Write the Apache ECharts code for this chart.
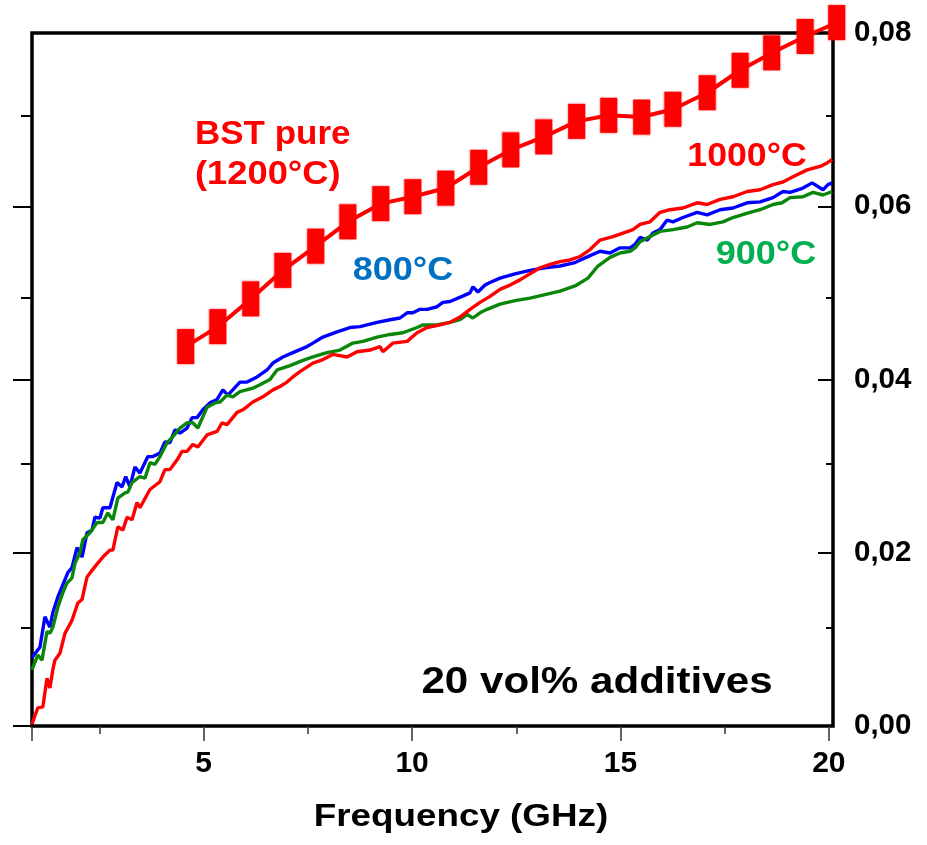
<!DOCTYPE html>
<html>
<head>
<meta charset="utf-8">
<script src="https://cdn.jsdelivr.net/npm/echarts@6/dist/echarts.min.js"></script>
<style>
  html, body { margin: 0; padding: 0; background: #ffffff; }
  #chart { width: 927px; height: 845px; }
</style>
</head>
<body>
<div id="chart"></div>
<script>
// Dielectric loss vs frequency, BST with 20 vol% additives sintered at 800/900/1000 °C,
// compared with pure BST sintered at 1200 °C.

// Pure BST (1200 °C), discrete measurement points
const freqBST = [4.57, 5.34, 6.13, 6.9, 7.69, 8.46, 9.25, 10.02, 10.81, 11.6, 12.37, 13.16, 13.95, 14.72, 15.51, 16.26, 17.08, 17.87, 18.63, 19.43, 20.19];
const lossBST = [0.0438, 0.0461, 0.0493, 0.0526, 0.0554, 0.0582, 0.0603, 0.0611, 0.0621, 0.0645, 0.0665, 0.0680, 0.0698, 0.0705, 0.0703, 0.0712, 0.0731, 0.0757, 0.0777, 0.0796, 0.0812];

// 800 °C
const freq800 = [0.88, 1.07, 1.19, 1.31, 1.38, 1.5, 1.74, 1.84, 1.96, 2.08, 2.2, 2.32, 2.39, 2.51, 2.58, 2.75, 2.92, 3.04, 3.13, 3.23, 3.35, 3.47, 3.66, 3.78, 3.95, 4.07, 4.19, 4.31, 4.43, 4.6, 4.72, 4.84, 4.98, 5.15, 5.32, 5.46, 5.58, 5.87, 6.04, 6.28, 6.52, 6.66, 6.9, 7.14, 7.48, 7.62, 7.86, 8.2, 8.51, 8.75, 9.16, 9.47, 9.71, 9.88, 10.02, 10.19, 10.36, 10.6, 10.74, 10.91, 11.2, 11.39, 11.46, 11.58, 11.75, 11.87, 12.11, 12.47, 12.83, 13.19, 13.55, 13.91, 14.27, 14.51, 14.75, 14.99, 15.23, 15.35, 15.47, 15.64, 15.78, 15.95, 16.12, 16.26, 16.5, 16.84, 17.08, 17.39, 17.7, 18.04, 18.35, 18.66, 18.9, 19.07, 19.38, 19.6, 19.86, 19.98, 20.08];
const loss800 = [0.0079, 0.0091, 0.0126, 0.0114, 0.0131, 0.0149, 0.0177, 0.0183, 0.0206, 0.0195, 0.0223, 0.0226, 0.0241, 0.0240, 0.0252, 0.0252, 0.0281, 0.0276, 0.0288, 0.0276, 0.0299, 0.0292, 0.0311, 0.0311, 0.0315, 0.0328, 0.0327, 0.0342, 0.0338, 0.0344, 0.0356, 0.0356, 0.0365, 0.0373, 0.0377, 0.0388, 0.0382, 0.0397, 0.0397, 0.0403, 0.0411, 0.0419, 0.0426, 0.0431, 0.0438, 0.0442, 0.0449, 0.0455, 0.0460, 0.0461, 0.0466, 0.0469, 0.0471, 0.0477, 0.0477, 0.0481, 0.0481, 0.0484, 0.0489, 0.0490, 0.0496, 0.0500, 0.0507, 0.0501, 0.0509, 0.0512, 0.0517, 0.0522, 0.0526, 0.0529, 0.0531, 0.0535, 0.0543, 0.0548, 0.0546, 0.0552, 0.0552, 0.0556, 0.0564, 0.0561, 0.0569, 0.0573, 0.0584, 0.0582, 0.0587, 0.0593, 0.0590, 0.0596, 0.0598, 0.0604, 0.0605, 0.0610, 0.0617, 0.0616, 0.0621, 0.0627, 0.0619, 0.0625, 0.0627];

// 900 °C
const freq900 = [0.88, 1.02, 1.12, 1.24, 1.31, 1.38, 1.5, 1.62, 1.72, 1.84, 1.91, 2.03, 2.1, 2.27, 2.44, 2.58, 2.7, 2.82, 2.94, 3.11, 3.18, 3.28, 3.47, 3.59, 3.71, 3.83, 3.95, 4.12, 4.26, 4.43, 4.6, 4.74, 4.86, 5.08, 5.27, 5.39, 5.56, 5.7, 5.87, 6.18, 6.35, 6.59, 6.76, 7.07, 7.38, 7.62, 7.96, 8.27, 8.58, 8.82, 9.16, 9.47, 9.78, 10.12, 10.26, 10.6, 10.91, 11.15, 11.32, 11.46, 11.63, 11.8, 12.11, 12.47, 12.83, 13.19, 13.55, 13.91, 14.22, 14.46, 14.75, 14.99, 15.23, 15.35, 15.47, 15.71, 15.95, 16.26, 16.6, 16.84, 17.15, 17.46, 17.7, 18.11, 18.35, 18.66, 18.88, 19.07, 19.38, 19.62, 19.86, 20.08];
const loss900 = [0.0065, 0.0082, 0.0076, 0.0109, 0.0107, 0.0114, 0.0137, 0.0154, 0.0165, 0.0171, 0.0188, 0.0200, 0.0215, 0.0223, 0.0235, 0.0235, 0.0246, 0.0238, 0.0263, 0.0269, 0.0270, 0.0281, 0.0288, 0.0286, 0.0304, 0.0302, 0.0311, 0.0327, 0.0334, 0.0344, 0.0350, 0.0350, 0.0344, 0.0368, 0.0373, 0.0374, 0.0382, 0.0380, 0.0386, 0.0390, 0.0394, 0.0400, 0.0411, 0.0416, 0.0422, 0.0426, 0.0431, 0.0434, 0.0442, 0.0444, 0.0449, 0.0452, 0.0454, 0.0460, 0.0463, 0.0463, 0.0466, 0.0469, 0.0475, 0.0471, 0.0477, 0.0481, 0.0487, 0.0491, 0.0494, 0.0498, 0.0502, 0.0508, 0.0517, 0.0531, 0.0541, 0.0546, 0.0548, 0.0552, 0.0559, 0.0565, 0.0571, 0.0573, 0.0576, 0.0581, 0.0579, 0.0582, 0.0587, 0.0593, 0.0596, 0.0602, 0.0604, 0.0610, 0.0611, 0.0616, 0.0613, 0.0617];

// 1000 °C
const freq1000 = [0.88, 0.95, 1.02, 1.14, 1.24, 1.31, 1.38, 1.43, 1.55, 1.67, 1.84, 1.98, 2.08, 2.2, 2.39, 2.58, 2.75, 2.82, 2.94, 3.06, 3.16, 3.28, 3.4, 3.47, 3.71, 3.95, 4.07, 4.19, 4.36, 4.48, 4.6, 4.74, 4.86, 5.08, 5.32, 5.44, 5.56, 5.8, 5.94, 6.18, 6.42, 6.66, 6.83, 7.0, 7.14, 7.31, 7.62, 7.86, 8.1, 8.44, 8.68, 8.99, 9.23, 9.3, 9.54, 9.88, 10.12, 10.36, 10.67, 10.91, 11.15, 11.39, 11.63, 11.87, 12.11, 12.35, 12.59, 12.83, 13.07, 13.31, 13.55, 13.79, 14.03, 14.27, 14.51, 14.82, 15.06, 15.3, 15.47, 15.71, 15.95, 16.19, 16.5, 16.84, 17.08, 17.39, 17.7, 18.04, 18.35, 18.66, 18.9, 19.14, 19.48, 19.79, 19.96, 20.08];
const loss1000 = [0.0002, 0.0012, 0.0021, 0.0022, 0.0055, 0.0044, 0.0065, 0.0076, 0.0084, 0.0107, 0.0122, 0.0142, 0.0146, 0.0172, 0.0184, 0.0195, 0.0203, 0.0203, 0.0230, 0.0226, 0.0241, 0.0238, 0.0258, 0.0252, 0.0273, 0.0282, 0.0296, 0.0296, 0.0307, 0.0317, 0.0317, 0.0325, 0.0322, 0.0336, 0.0340, 0.0350, 0.0348, 0.0362, 0.0365, 0.0374, 0.0380, 0.0388, 0.0392, 0.0397, 0.0403, 0.0409, 0.0419, 0.0423, 0.0429, 0.0426, 0.0432, 0.0434, 0.0438, 0.0432, 0.0442, 0.0444, 0.0454, 0.0460, 0.0463, 0.0466, 0.0472, 0.0481, 0.0489, 0.0496, 0.0504, 0.0509, 0.0515, 0.0522, 0.0529, 0.0533, 0.0536, 0.0538, 0.0542, 0.0550, 0.0561, 0.0565, 0.0569, 0.0573, 0.0579, 0.0582, 0.0593, 0.0596, 0.0598, 0.0604, 0.0602, 0.0608, 0.0611, 0.0617, 0.0619, 0.0625, 0.0628, 0.0634, 0.0642, 0.0646, 0.0650, 0.0654];

// Axis ranges and ticks
const xMin = 0.88, xMax = 20.1;
const xLabelValues = [5, 10, 15, 20];
const xMajorTicks = [0.88, 5, 10, 15, 20];
const xMinorTicks = [2.5, 7.5, 12.5, 17.5];
const yMin = 0, yMax = 0.08;
const yLabelValues = [0, 0.02, 0.04, 0.06, 0.08];
const yLabels = ['0,00', '0,02', '0,04', '0,06', '0,08'];
const yLeftMajorTicks = [0, 0.02, 0.04, 0.06];
const yMinorTicks = [0.0113, 0.0303, 0.0494, 0.0704];

const pairs = (xs, ys) => xs.map((x, i) => [x, ys[i]]);

const FONT = 'Arial, "Liberation Sans", sans-serif';
const tickLine = { color: '#000', width: 2 };

const chart = echarts.init(document.getElementById('chart'), null, { renderer: 'canvas' });

chart.setOption({
  animation: false,
  backgroundColor: '#ffffff',
  grid: {
    left: 32, right: 94, top: 33, bottom: 119,
    show: true, borderColor: '#000', borderWidth: 3.5, backgroundColor: 'transparent'
  },
  xAxis: [
    {
      type: 'value', position: 'bottom', min: xMin, max: xMax,
      axisLine: { show: false }, splitLine: { show: false },
      axisTick: { show: true, inside: false, length: 15, customValues: xMajorTicks, lineStyle: { color: '#333', width: 1.5 } },
      axisLabel: {
        show: true, customValues: xLabelValues, margin: 23,
        color: '#000', fontSize: 30, fontWeight: 'bold', fontFamily: FONT,
        formatter: v => String(Math.round(v))
      }
    },
    {
      type: 'value', position: 'bottom', min: xMin, max: xMax,
      axisLine: { show: false }, splitLine: { show: false },
      axisTick: { show: true, inside: false, length: 8, customValues: xMinorTicks, lineStyle: { color: '#333', width: 1.5 } },
      axisLabel: { show: false }
    }
  ],
  yAxis: [
    {
      type: 'value', position: 'left', min: yMin, max: yMax,
      axisLine: { show: false }, splitLine: { show: false },
      axisTick: { show: true, inside: false, length: 19, customValues: yLeftMajorTicks, lineStyle: tickLine },
      axisLabel: { show: false }
    },
    {
      type: 'value', position: 'left', min: yMin, max: yMax,
      axisLine: { show: false }, splitLine: { show: false },
      axisTick: { show: true, inside: false, length: 11, customValues: yMinorTicks, lineStyle: tickLine },
      axisLabel: { show: false }
    },
    {
      type: 'value', position: 'right', min: yMin, max: yMax,
      axisLine: { show: false }, splitLine: { show: false },
      axisTick: { show: true, inside: true, length: 15, customValues: yLabelValues, lineStyle: tickLine },
      axisLabel: {
        show: true, customValues: yLabelValues, margin: 21,
        color: '#000', fontSize: 29.5, fontWeight: 'bold', fontFamily: FONT,
        formatter: v => yLabels[yLabelValues.findIndex(t => Math.abs(t - v) < 1e-9)]
      }
    },
    {
      type: 'value', position: 'right', min: yMin, max: yMax,
      axisLine: { show: false }, splitLine: { show: false },
      axisTick: { show: true, inside: true, length: 7, customValues: yMinorTicks, lineStyle: tickLine },
      axisLabel: { show: false }
    }
  ],
  series: [
    {
      name: '800°C', type: 'line', xAxisIndex: 0, yAxisIndex: 0,
      data: pairs(freq800, loss800), showSymbol: false, symbol: 'none',
      lineStyle: { color: '#0000ff', width: 3.4 }, z: 3
    },
    {
      name: '900°C', type: 'line', xAxisIndex: 0, yAxisIndex: 0,
      data: pairs(freq900, loss900), showSymbol: false, symbol: 'none',
      lineStyle: { color: '#0a870a', width: 3.4 }, z: 4
    },
    {
      name: '1000°C', type: 'line', xAxisIndex: 0, yAxisIndex: 0,
      data: pairs(freq1000, loss1000), showSymbol: false, symbol: 'none',
      lineStyle: { color: '#ff0000', width: 3.4 }, z: 5
    },
    {
      name: 'BST pure (1200°C)', type: 'line', xAxisIndex: 0, yAxisIndex: 0,
      data: pairs(freqBST, lossBST), clip: false,
      symbol: 'rect', symbolSize: [17, 35], showSymbol: true,
      itemStyle: { color: '#ff0000', shadowColor: 'rgba(255,0,0,0.6)', shadowBlur: 2 },
      lineStyle: { color: '#ff0000', width: 4 }, z: 6
    }
  ],
  graphic: [
    { type: 'text', x: 195, y: 135, scaleX: 1.06, z: 20,
      style: { text: 'BST pure', fill: '#ff0000', font: 'bold 33px ' + FONT, align: 'left', verticalAlign: 'middle', textAlign: 'left', textVerticalAlign: 'middle' } },
    { type: 'text', x: 195, y: 175, scaleX: 1.1, z: 20,
      style: { text: '(1200°C)', fill: '#ff0000', font: 'bold 33px ' + FONT, align: 'left', verticalAlign: 'middle', textAlign: 'left', textVerticalAlign: 'middle' } },
    { type: 'text', x: 403, y: 271, scaleX: 1.06, z: 20,
      style: { text: '800°C', fill: '#0070c0', font: 'bold 34px ' + FONT, align: 'center', verticalAlign: 'middle', textAlign: 'center', textVerticalAlign: 'middle' } },
    { type: 'text', x: 747, y: 157, scaleX: 1.08, z: 20,
      style: { text: '1000°C', fill: '#ff0000', font: 'bold 33px ' + FONT, align: 'center', verticalAlign: 'middle', textAlign: 'center', textVerticalAlign: 'middle' } },
    { type: 'text', x: 766, y: 255, scaleX: 1.06, z: 20,
      style: { text: '900°C', fill: '#00b050', font: 'bold 34px ' + FONT, align: 'center', verticalAlign: 'middle', textAlign: 'center', textVerticalAlign: 'middle' } },
    { type: 'text', x: 597, y: 683, scaleX: 1.17, z: 20,
      style: { text: '20 vol% additives', fill: '#000', font: 'bold 36px ' + FONT, align: 'center', verticalAlign: 'middle', textAlign: 'center', textVerticalAlign: 'middle' } },
    { type: 'text', x: 461, y: 817, scaleX: 1.15, z: 20,
      style: { text: 'Frequency (GHz)', fill: '#000', font: 'bold 32px ' + FONT, align: 'center', verticalAlign: 'middle', textAlign: 'center', textVerticalAlign: 'middle' } }
  ]
});
</script>
</body>
</html>
